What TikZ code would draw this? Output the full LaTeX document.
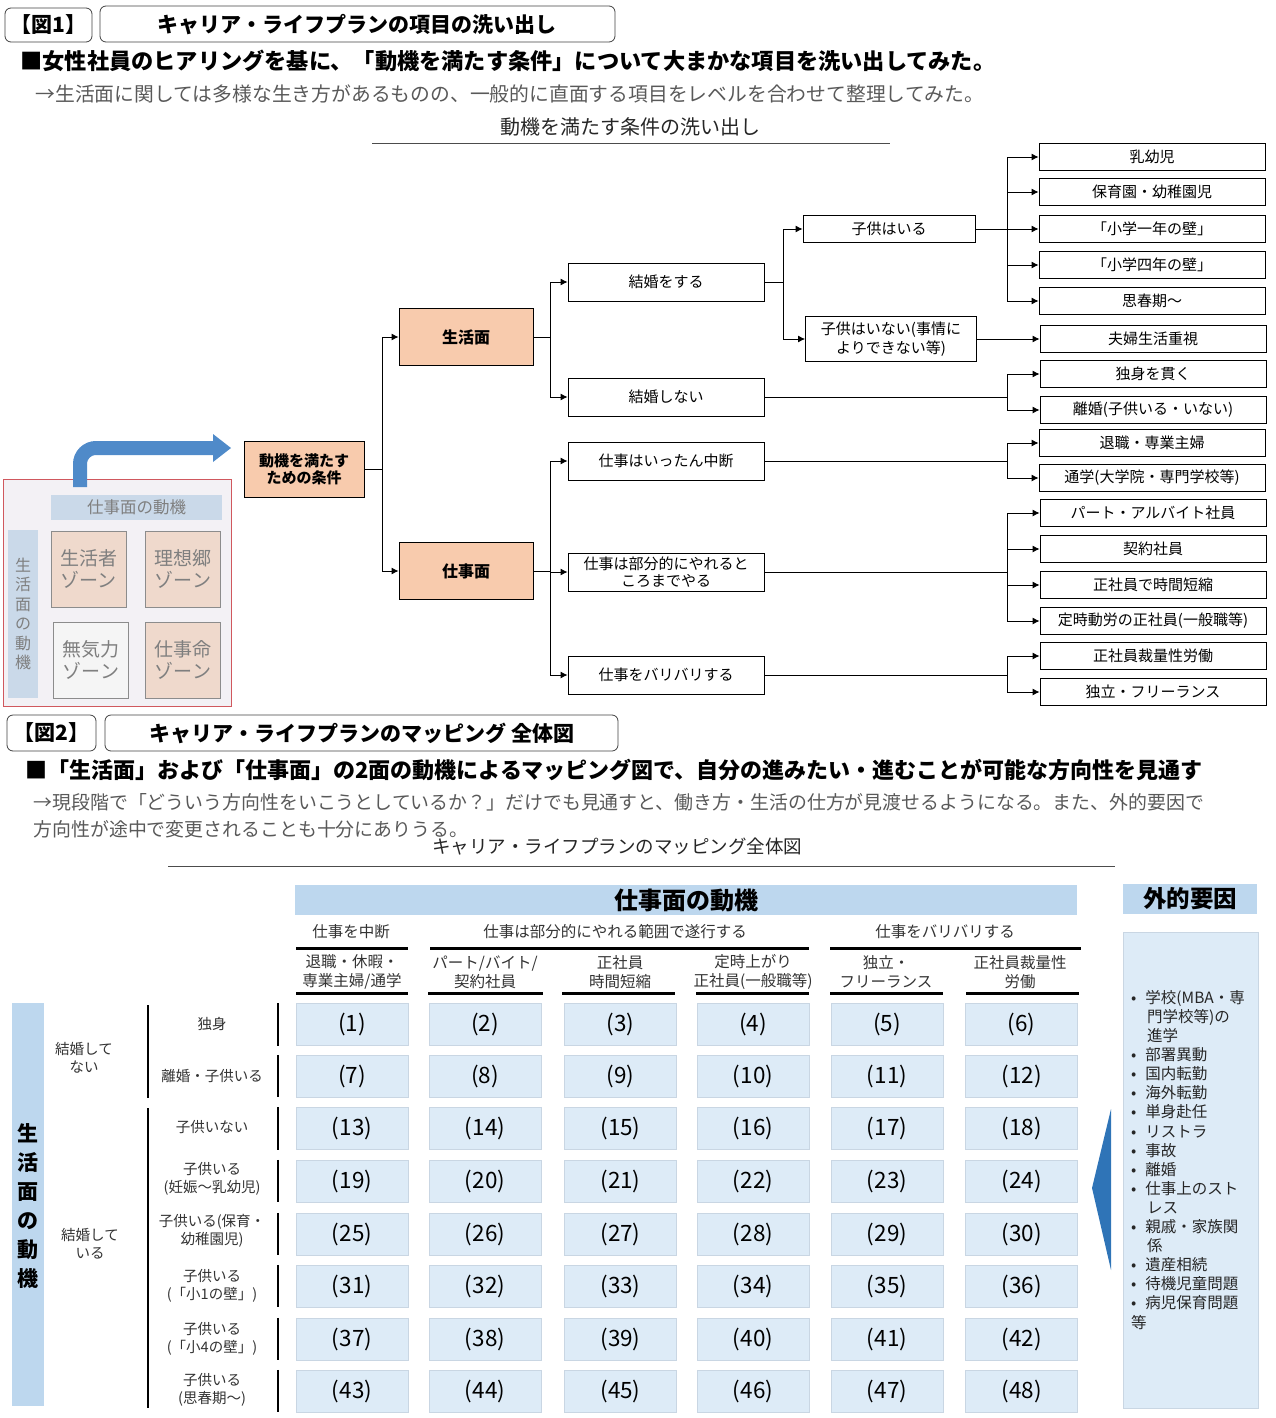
\documentclass[tikz,border=0pt]{standalone}
\usepackage{fontspec}
\setmainfont{Noto Sans CJK JP}
\usetikzlibrary{positioning,arrows.meta,calc}

\definecolor{peach}{HTML}{F8CBAD}
\definecolor{zonepeach}{HTML}{EFD9CC}
\definecolor{zonebg}{HTML}{F3F1F5}
\definecolor{zonered}{HTML}{D0585E}
\definecolor{zoneband}{HTML}{CAD9E9}
\definecolor{zonetxt}{HTML}{7F7F7F}
\definecolor{txtgrey}{HTML}{595959}
\definecolor{tblue}{HTML}{BDD7EE}
\definecolor{cellblue}{HTML}{DDEBF7}
\definecolor{cellline}{HTML}{C9D6E3}
\definecolor{arrowblue}{HTML}{4F8AC9}
\definecolor{wedgeblue}{HTML}{2F74B7}

\tikzset{
  heading/.style={font=\fontsize{21}{24}\selectfont\bfseries},
  titlebox/.style={draw=black!75, rounded corners=6pt, line width=0.8pt},
  lead/.style={anchor=west, font=\fontsize{22.2}{24}\selectfont\bfseries},
  note/.style={anchor=west, text=txtgrey, font=\fontsize{19.8}{24}\selectfont},
  caption/.style={text=black!85, font=\fontsize{20}{24}\selectfont},
  tbox/.style={draw, line width=0.9pt, minimum width=196pt, minimum height=38pt,
    inner sep=1pt, align=center, font=\fontsize{15}{17}\selectfont},
  leaf/.style={tbox, minimum width=226pt, minimum height=27pt},
  mainbox/.style={tbox, fill=peach, minimum width=134pt, minimum height=57pt,
    font=\fontsize{16}{17}\selectfont\bfseries},
  link/.style={-{Latex[length=7pt,width=7pt]}, line width=0.9pt},
  trunk/.style={line width=0.9pt},
  zone/.style={draw=black!45, fill=zonepeach, minimum width=75pt, minimum height=76pt,
    align=center, text=zonetxt, font=\fontsize{19}{22}\selectfont},
  zband/.style={fill=zoneband, text=zonetxt, inner sep=0pt},
  cell/.style={draw=cellline, fill=cellblue, minimum width=112pt, minimum height=42pt,
    font=\fontsize{22.5}{24}\selectfont},
  rowlab/.style={align=center, text=black!80, font=\fontsize{14.5}{18}\selectfont},
  collab/.style={align=center, text=black!80, font=\fontsize{15.5}{19}\selectfont},
  thickbar/.style={line width=3pt},
}

\begin{document}
\begin{tikzpicture}[x=1pt,y=-1pt]
  \useasboundingbox (0,0) rectangle (1275,1418);

  % ---------- Figure 1 header ----------
  \draw[titlebox] (5,8) rectangle (92,42);
  \node[heading] (fig1) at (48.5,25) {【図1】};
  \draw[titlebox] (100,6) rectangle (615,42);
  \node[heading] (title1) at (357,25) {キャリア・ライフプランの項目の洗い出し};
  \node[lead] (lead1) at (17,61) {■女性社員のヒアリングを基に、「動機を満たす条件」について大まかな項目を洗い出してみた。};
  \node[note] (note1) at (32,94) {→生活面に関しては多様な生き方があるものの、一般的に直面する項目をレベルを合わせて整理してみた。};
  \node[caption] (cap1) at (630,127) {動機を満たす条件の洗い出し};
  \draw[black!70, line width=1pt] (372,143) -- (890,143);

  % ---------- Tree ----------
  \node[mainbox, minimum width=120pt, minimum height=56pt, font=\fontsize{15}{17}\selectfont\bfseries]
    (root) at (304,469) {動機を満たす\\ための条件};
  \node[mainbox] (life) at (466,337) {生活面};
  \node[mainbox] (work) at (466,571) {仕事面};

  \node[tbox] (marry) at (666,282) {結婚をする};
  \node[tbox] (nomarry) at (666,397) {結婚しない};
  \node[tbox] (pause) at (666,461) {仕事はいったん中断};
  \node[tbox] (part) at (666,572) {仕事は部分的にやれると\\ころまでやる};
  \node[tbox] (hard) at (666,675) {仕事をバリバリする};

  \node[tbox, minimum width=172pt, minimum height=27pt] (kids) at (889,229) {子供はいる};
  \node[tbox, minimum width=171pt, minimum height=45pt, font=\fontsize{15}{19}\selectfont]
    (nokids) at (891,339) {子供はいない(事情に\\よりできない等)};

  % leaves
  \node[leaf] (baby) at (1152,157) {乳幼児};
  \node[leaf] (nursery) at (1152,192) {保育園・幼稚園児};
  \node[leaf] (wall1) at (1152,229) {「小学一年の壁」};
  \node[leaf] (wall4) at (1152,265) {「小学四年の壁」};
  \node[leaf] (teen) at (1152,301) {思春期～};
  \node[leaf] (couple) at (1153,339) {夫婦生活重視};
  \node[leaf] (single) at (1153,374) {独身を貫く};
  \node[leaf] (divorce) at (1153,410) {離婚(子供いる・いない)};
  \node[leaf] (retire) at (1152,443) {退職・専業主婦};
  \node[leaf] (school) at (1152,478) {通学(大学院・専門学校等)};
  \node[leaf] (parttime) at (1153,513) {パート・アルバイト社員};
  \node[leaf] (contract) at (1153,549) {契約社員};
  \node[leaf] (short) at (1153,585) {正社員で時間短縮};
  \node[leaf] (fixed) at (1153,621) {定時動労の正社員(一般職等)};
  \node[leaf] (discr) at (1153,656) {正社員裁量性労働};
  \node[leaf] (free) at (1153,692) {独立・フリーランス};

  % forks
  \coordinate (lx) at (1007,0);
  \coordinate (k0) at ($(root.east)+(18,0)$);
  \coordinate (k1) at ($(life.east)+(17,0)$);
  \coordinate (k2) at ($(work.east)+(17,0)$);
  \coordinate (k3) at ($(marry.east)+(19,0)$);
  \coordinate (k4) at (kids.east -| lx);
  \coordinate (k5) at (nomarry.east -| lx);
  \coordinate (k6) at (pause.east -| lx);
  \coordinate (k7) at (part.east -| lx);
  \coordinate (k8) at (hard.east -| lx);

  \draw[trunk] (root.east) -- (k0);
  \draw[link] (k0) |- (life.west);
  \draw[link] (k0) |- (work.west);

  \draw[trunk] (life.east) -- (k1);
  \draw[link] (k1) |- (marry.west);
  \draw[link] (k1) |- (nomarry.west);

  \draw[trunk] (marry.east) -- (k3);
  \draw[link] (k3) |- (kids.west);
  \draw[link] (k3) |- (nokids.west);

  \draw[trunk] (kids.east) -- (k4);
  \foreach \t in {baby,nursery,wall1,wall4,teen}
    \draw[link] (k4) |- (\t.west);
  \draw[link] (nokids.east) -- (couple.west);

  \draw[trunk] (nomarry.east) -- (k5);
  \foreach \t in {single,divorce}
    \draw[link] (k5) |- (\t.west);

  \draw[trunk] (work.east) -- (k2);
  \foreach \t in {pause,part,hard}
    \draw[link] (k2) |- (\t.west);

  \draw[trunk] (pause.east) -- (k6);
  \foreach \t in {retire,school}
    \draw[link] (k6) |- (\t.west);
  \draw[trunk] (part.east) -- (k7);
  \foreach \t in {parttime,contract,short,fixed}
    \draw[link] (k7) |- (\t.west);
  \draw[trunk] (hard.east) -- (k8);
  \foreach \t in {discr,free}
    \draw[link] (k8) |- (\t.west);

  % ---------- Zone map ----------
  \draw[draw=zonered, fill=zonebg, line width=0.8pt] (3,479) rectangle (231,706);
  \node[zband, minimum width=171pt, minimum height=25pt, font=\fontsize{16.5}{18}\selectfont]
    (zwork) at (136.5,507.5) {仕事面の動機};
  \node[zband, minimum width=30pt, minimum height=168pt, align=center, font=\fontsize{16}{19.5}\selectfont]
    (zlife) at (23,614) {生\\活\\面\\の\\動\\機};
  \node[zone] (zlive) at (88.5,569) {生活者\\ゾーン};
  \node[zone] (zideal) at (183,569) {理想郷\\ゾーン};
  \node[zone, fill=white!96!black] (zidle) at (91,660) {無気力\\ゾーン};
  \node[zone] (zjob) at (183,660) {仕事命\\ゾーン};
  \draw[arrowblue, line width=14pt, rounded corners=16pt] (80,487) -- (80,448) -- (214,448);
  \fill[arrowblue] (213,434) -- (231,448) -- (213,462) -- cycle;

  % ---------- Figure 2 header ----------
  \draw[titlebox] (7,715) rectangle (96,751);
  \node[heading] (fig2) at (51.5,733) {【図2】};
  \draw[titlebox] (105,715) rectangle (618,751);
  \node[heading] (title2) at (362,733) {キャリア・ライフプランのマッピング 全体図};
  \node[lead, font=\fontsize{22}{24}\selectfont\bfseries] (lead2) at (22,770)
    {■「生活面」および「仕事面」の2面の動機によるマッピング図で、自分の進みたい・進むことが可能な方向性を見通す};
  \node[note, font=\fontsize{18.9}{27}\selectfont, align=left, anchor=north west] (note2) at (30,790)
    {→現段階で「どういう方向性をいこうとしているか？」だけでも見通すと、働き方・生活の仕方が見渡せるようになる。また、外的要因で\\方向性が途中で変更されることも十分にありうる。};
  \node[caption, font=\fontsize{18.5}{22}\selectfont] (cap2) at (617,847) {キャリア・ライフプランのマッピング全体図};
  \draw[black!70, line width=1pt] (168,866) -- (1115,866);

  % ---------- Map table ----------
  \node[fill=tblue, minimum width=782pt, minimum height=30pt, font=\fontsize{24}{25}\selectfont\bfseries]
    (workhead) at (686,900) {仕事面の動機};
  \node[fill=tblue, minimum width=134pt, minimum height=28pt, font=\fontsize{23.5}{24}\selectfont\bfseries]
    (exthead) at (1190,899) {外的要因};

  \node[collab] (g1) at (351,932) {仕事を中断};
  \node[collab] (g2) at (615,932) {仕事は部分的にやれる範囲で遂行する};
  \node[collab] (g3) at (945,932) {仕事をバリバリする};
  \draw[thickbar] (296,948) -- (408,948);
  \draw[thickbar] (430,948) -- (809,948);
  \draw[thickbar] (830,948) -- (1081,948);

  \node[collab] (h1) at (352,972) {退職・休暇・\\専業主婦/通学};
  \node[collab] (h2) at (485,972) {パート/バイト/\\契約社員};
  \node[collab] (h3) at (620,972) {正社員\\時間短縮};
  \node[collab] (h4) at (753,972) {定時上がり\\正社員(一般職等)};
  \node[collab] (h5) at (886,972) {独立・\\フリーランス};
  \node[collab] (h6) at (1020,972) {正社員裁量性\\労働};
  \foreach \a/\b in {296/408,428/543,562/675,696/809,830/943,966/1079}
    \draw[thickbar] (\a,993) -- (\b,993);

  % life side labels
  \node[fill=tblue, minimum width=32pt, minimum height=403pt] (lifeband) at (28,1204.5) {};
  \node[align=center, font=\fontsize{21}{29}\selectfont\bfseries] (lifehead) at (28,1206)
    {生\\活\\面\\の\\動\\機};
  \node[rowlab] (nm) at (84,1058) {結婚して\\ない};
  \node[rowlab] (ym) at (90,1244) {結婚して\\いる};
  \draw[thickbar, line width=2.5pt] (148,1005) -- (148,1098);
  \draw[thickbar, line width=2.5pt] (148,1108) -- (148,1408);

  \node[rowlab] (r0) at (212,1024) {独身};
  \node[rowlab] (r1) at (212,1076) {離婚・子供いる};
  \node[rowlab] (r2) at (212,1127) {子供いない};
  \node[rowlab] (r3) at (212,1179) {子供いる\\(妊娠～乳幼児)};
  \node[rowlab] (r4) at (212,1231) {子供いる(保育・\\幼稚園児)};
  \node[rowlab] (r5) at (212,1286) {子供いる\\(「小1の壁」)};
  \node[rowlab] (r6) at (212,1339) {子供いる\\(「小4の壁」)};
  \node[rowlab] (r7) at (212,1390) {子供いる\\(思春期～)};

  % cells
  \foreach \y [count=\i from 0] in {1024.5,1076,1128.5,1181,1234,1286,1339,1391}{
    \foreach \x [count=\j from 1] in {352,485,620.5,753,887,1021.5}{
      \pgfmathtruncatemacro{\n}{\i*6+\j}
      \node[cell] (c-\i-\j) at (\x,\y) {(\n)};
    }
    \draw[thickbar, line width=2.5pt] ([xshift=-18pt]c-\i-1.north west) -- ([xshift=-18pt]c-\i-1.south west);
  }

  % external factors
  \node[draw=cellline, fill=cellblue, minimum width=135pt, minimum height=476pt] (extbox) at (1190.5,1170) {};
  \node[anchor=north west, align=left, inner sep=0pt, text=black!85, font=\fontsize{15.5}{19.1}\selectfont]
    (extlist) at (1131,990) {%
    •\hspace{9pt}学校(MBA・専\\
    \hspace{16pt}門学校等)の\\
    \hspace{16pt}進学\\
    •\hspace{9pt}部署異動\\
    •\hspace{9pt}国内転勤\\
    •\hspace{9pt}海外転勤\\
    •\hspace{9pt}単身赴任\\
    •\hspace{9pt}リストラ\\
    •\hspace{9pt}事故\\
    •\hspace{9pt}離婚\\
    •\hspace{9pt}仕事上のスト\\
    \hspace{16pt}レス\\
    •\hspace{9pt}親戚・家族関\\
    \hspace{16pt}係\\
    •\hspace{9pt}遺産相続\\
    •\hspace{9pt}待機児童問題\\
    •\hspace{9pt}病児保育問題\\
    等};
  \fill[wedgeblue] (1111,1109) -- (1092,1188) -- (1111,1270) -- cycle;
\end{tikzpicture}
\end{document}
